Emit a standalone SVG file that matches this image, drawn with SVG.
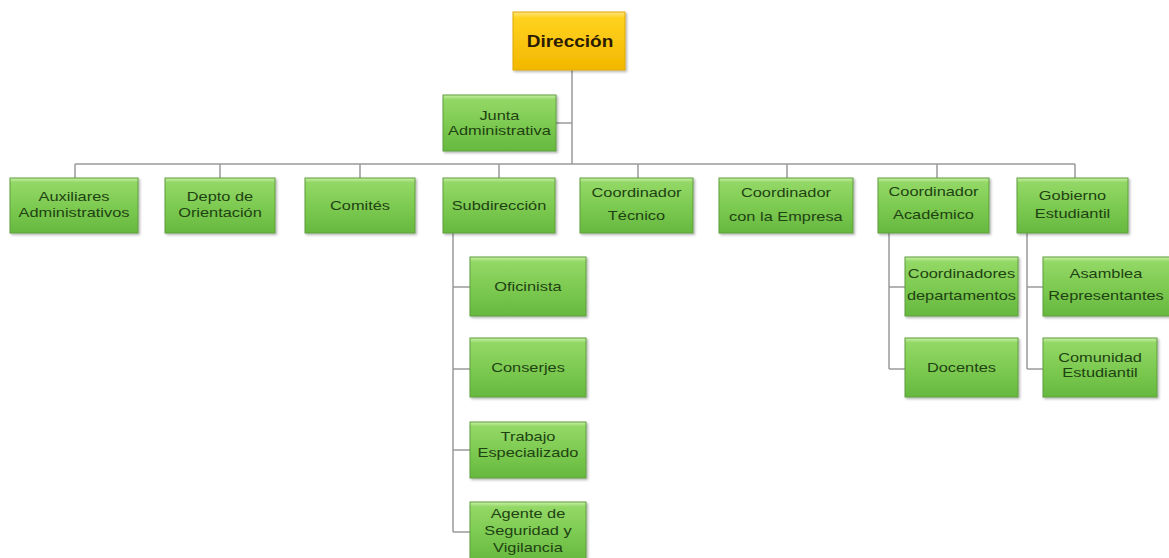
<svg xmlns="http://www.w3.org/2000/svg" width="1169" height="558" viewBox="0 0 1169 558">
<defs>
<linearGradient id="g" x1="0" y1="0" x2="0" y2="1">
<stop offset="0" stop-color="#c9f0a6"/>
<stop offset="0.08" stop-color="#93d866"/>
<stop offset="0.5" stop-color="#7ecb52"/>
<stop offset="1" stop-color="#66b83f"/>
</linearGradient>
<linearGradient id="y" x1="0" y1="0" x2="0" y2="1">
<stop offset="0" stop-color="#ffe680"/>
<stop offset="0.1" stop-color="#ffd21f"/>
<stop offset="1" stop-color="#f2b700"/>
</linearGradient>
<filter id="sh" x="-10%" y="-10%" width="125%" height="130%">
<feDropShadow dx="1.5" dy="1.5" stdDeviation="1" flood-color="#000" flood-opacity="0.3"/>
</filter>
</defs>
<style>
.b{fill:url(#g);stroke:#5f9e3d;stroke-width:1;filter:url(#sh)}
.d{fill:url(#y);stroke:#e0a800;stroke-width:1;filter:url(#sh)}
.t{font-family:"Liberation Sans",Arial,sans-serif;font-size:13px;fill:#1e4212;text-anchor:middle;transform-box:fill-box;transform-origin:center;transform:scaleX(1.26)}
.td{font-family:"Liberation Sans",Arial,sans-serif;font-size:17px;font-weight:bold;fill:#2a1a00;text-anchor:middle;transform-box:fill-box;transform-origin:center;transform:scaleX(1.12)}
.c{fill:none;stroke:#9a9a9a;stroke-width:1.5}
</style>
<rect width="1169" height="558" fill="#ffffff"/>
<g id="connectors">
<path class="c" d="M572 70V164"/>
<path class="c" d="M556 123H572"/>
<path class="c" d="M75 164H1075"/>
<path class="c" d="M75 164V178M220 164V178M360 164V178M499 164V178M638 164V178M787 164V178M937 164V178M1075 164V178"/>
<path class="c" d="M453 233V532M453 287H470M453 369H470M453 450H470M453 532H470"/>
<path class="c" d="M889 233V369M889 287H905M889 369H905"/>
<path class="c" d="M1027 233V369M1027 287H1043M1027 369H1043"/>
</g>
<g id="direccion"><rect class="d" x="513" y="12" width="112" height="58"/><text class="td" x="570" y="47">Dirección</text></g>
<g id="junta"><rect class="b" x="443" y="95" width="113" height="56"/><text class="t" x="499.5" y="120">Junta</text><text class="t" x="499.5" y="135">Administrativa</text></g>
<g id="auxiliares"><rect class="b" x="10" y="178" width="128" height="55"/><text class="t" x="74" y="201">Auxiliares</text><text class="t" x="74" y="217">Administrativos</text></g>
<g id="depto"><rect class="b" x="165" y="178" width="110" height="55"/><text class="t" x="220" y="201">Depto de</text><text class="t" x="220" y="217">Orientación</text></g>
<g id="comites"><rect class="b" x="305" y="178" width="110" height="55"/><text class="t" x="360" y="210">Comités</text></g>
<g id="subdireccion"><rect class="b" x="443" y="178" width="112" height="55"/><text class="t" x="499" y="210">Subdirección</text></g>
<g id="coord-tecnico"><rect class="b" x="580" y="178" width="113" height="55"/><text class="t" x="636.5" y="197">Coordinador</text><text class="t" x="636.5" y="220">Técnico</text></g>
<g id="coord-empresa"><rect class="b" x="719" y="178" width="134" height="55"/><text class="t" x="786" y="197">Coordinador</text><text class="t" x="786" y="221">con la Empresa</text></g>
<g id="coord-academico"><rect class="b" x="878" y="178" width="111" height="55"/><text class="t" x="933.5" y="196">Coordinador</text><text class="t" x="933.5" y="219">Académico</text></g>
<g id="gobierno"><rect class="b" x="1017" y="178" width="111" height="55"/><text class="t" x="1072.5" y="200">Gobierno</text><text class="t" x="1072.5" y="218">Estudiantil</text></g>
<g id="oficinista"><rect class="b" x="470" y="257" width="116" height="59"/><text class="t" x="528" y="291">Oficinista</text></g>
<g id="conserjes"><rect class="b" x="470" y="338" width="116" height="59"/><text class="t" x="528" y="372">Conserjes</text></g>
<g id="trabajo"><rect class="b" x="470" y="422" width="116" height="56"/><text class="t" x="528" y="441">Trabajo</text><text class="t" x="528" y="457">Especializado</text></g>
<g id="agente"><rect class="b" x="470" y="502" width="116" height="60"/><text class="t" x="528" y="518">Agente de</text><text class="t" x="528" y="535">Seguridad y</text><text class="t" x="528" y="552">Vigilancia</text></g>
<g id="coordinadores"><rect class="b" x="905" y="257" width="113" height="59"/><text class="t" x="961.5" y="278">Coordinadores</text><text class="t" x="961.5" y="300">departamentos</text></g>
<g id="docentes"><rect class="b" x="905" y="338" width="113" height="59"/><text class="t" x="961.5" y="372">Docentes</text></g>
<g id="asamblea"><rect class="b" x="1043" y="257" width="130" height="59"/><text class="t" x="1106" y="278">Asamblea</text><text class="t" x="1106" y="300">Representantes</text></g>
<g id="comunidad"><rect class="b" x="1043" y="338" width="114" height="59"/><text class="t" x="1100" y="362">Comunidad</text><text class="t" x="1100" y="377">Estudiantil</text></g>
</svg>
